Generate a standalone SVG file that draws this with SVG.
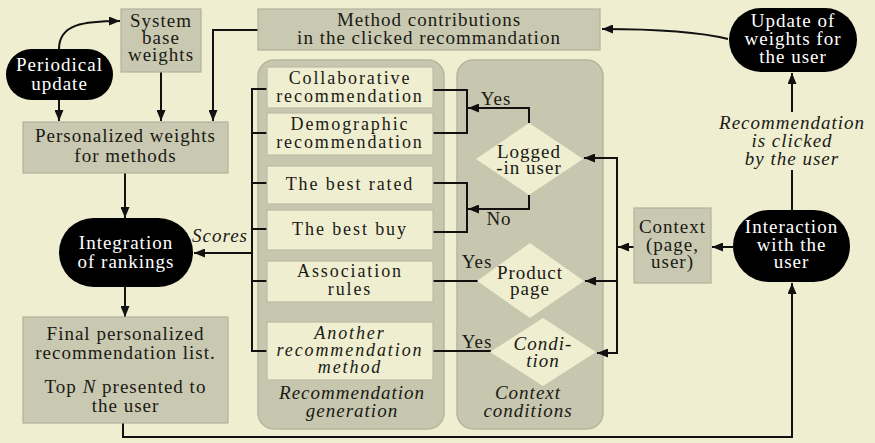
<svg xmlns="http://www.w3.org/2000/svg" width="875" height="443" viewBox="0 0 875 443">
  <defs>
    <marker id="arrow" markerUnits="userSpaceOnUse" markerWidth="12" markerHeight="9" refX="11" refY="4.5" orient="auto">
      <path d="M0,0 L11,4.5 L0,9 z" fill="#111"/>
    </marker>
  </defs>
  <style>
    text { font-family: "Liberation Serif", "Times New Roman", serif; font-size: 19px; letter-spacing: 1px; fill: #1a1a14; text-anchor: middle; }
    .inner text { font-size: 18px; letter-spacing: 1.9px; }
    .it { font-style: italic; }
    .light { fill: #ffffff; }
    .gray { fill: #c9c8b1; stroke: #b3b29c; stroke-width: 1.2; }
    .pill { fill: #000000; }
    .panel { fill: #c7c6af; stroke: #b6b5a0; stroke-width: 1.5; }
    .box { fill: #efeed1; stroke: #bdbca6; stroke-width: 1.2; }
    .dia { fill: #efeed1; }
    .wire { fill: none; stroke: #111; stroke-width: 2; }
    .wire.a { marker-end: url(#arrow); }
  </style>

  <rect x="0" y="0" width="875" height="443" fill="#efeed1"/>

  <!-- group panels -->
  <g id="recommendation-generation">
    <rect class="panel" x="258" y="60" width="186" height="369" rx="16"/>
    <text class="it" x="352" y="399">Recommendation</text>
    <text class="it" x="352" y="417">generation</text>
  </g>
  <g id="context-conditions">
    <rect class="panel" x="457" y="60" width="146" height="369" rx="16"/>
    <text class="it" x="528" y="399">Context</text>
    <text class="it" x="528" y="417">conditions</text>
  </g>

  <!-- connectors -->
  <g id="connectors">
    <path class="wire a" d="M59,49 C59,24 84,21 120,21"/>
    <path class="wire a" d="M59,100 V121"/>
    <path class="wire a" d="M161,72 V121"/>
    <path class="wire a" d="M258,30 H213 V121"/>
    <path class="wire a" d="M728,39 C700,32 660,29 602,29"/>
    <path class="wire" d="M792,210 V170"/>
    <path class="wire a" d="M792,112 V73"/>
    <path class="wire a" d="M733,247 H712"/>
    <path class="wire a" d="M634,247 H618"/>
    <path class="wire" d="M617,157 V354"/>
    <path class="wire a" d="M617,158 H584"/>
    <path class="wire a" d="M617,281 H585"/>
    <path class="wire a" d="M617,353 H597"/>
    <path class="wire a" d="M529,123 V108 H468"/>
    <path class="wire" d="M433,90 H467 V133 H433"/>
    <path class="wire a" d="M529,195 V209 H468"/>
    <path class="wire" d="M433,183 H467 V232 H433"/>
    <path class="wire" d="M433,281 H478"/>
    <path class="wire" d="M433,351 H491"/>
    <path class="wire" d="M267,89 H252 V351 H267 M252,133 H267 M252,183 H267 M252,229 H267 M252,281 H267"/>
    <path class="wire a" d="M252,253 H194"/>
    <path class="wire a" d="M125,173 V218"/>
    <path class="wire a" d="M125,287 V317"/>
    <path class="wire a" d="M123,423 V437 H792 V283"/>
  </g>

  <!-- edge labels -->
  <g id="labels">
    <text class="it" x="220" y="242">Scores</text>
    <text class="it" x="792" y="129">Recommendation</text>
    <text class="it" x="792" y="147">is clicked</text>
    <text class="it" x="792" y="165">by the user</text>
    <text x="496" y="105">Yes</text>
    <text x="499" y="225">No</text>
    <text x="477" y="268">Yes</text>
    <text x="477" y="348">Yes</text>
  </g>

  <g id="periodical-update">
    <rect class="pill" x="6" y="49" width="107" height="51" rx="25.5"/>
    <text class="light" x="59.5" y="71">Periodical</text>
    <text class="light" x="59.5" y="90">update</text>
  </g>

  <g id="system-base-weights">
    <rect class="gray" x="121" y="9" width="80" height="63"/>
    <text x="161" y="27">System</text>
    <text x="161" y="44">base</text>
    <text x="161" y="61">weights</text>
  </g>

  <g id="method-contributions">
    <rect class="gray" x="258" y="9" width="342" height="41"/>
    <text x="429" y="26">Method contributions</text>
    <text x="429" y="44">in the clicked recommandation</text>
  </g>

  <g id="update-weights">
    <rect class="pill" x="729" y="8" width="128" height="64" rx="32"/>
    <text class="light" x="793" y="27">Update of</text>
    <text class="light" x="793" y="45">weights for</text>
    <text class="light" x="793" y="63">the user</text>
  </g>

  <g id="personalized-weights">
    <rect class="gray" x="23" y="122" width="205" height="51"/>
    <text x="125.5" y="142">Personalized weights</text>
    <text x="125.5" y="162">for methods</text>
  </g>

  <g id="integration">
    <rect class="pill" x="59" y="218" width="134" height="69" rx="34.5"/>
    <text class="light" x="126" y="249">Integration</text>
    <text class="light" x="126" y="268">of rankings</text>
  </g>

  <g id="final-list">
    <rect class="gray" x="23" y="317" width="205" height="106"/>
    <text x="125.5" y="340">Final personalized</text>
    <text x="125.5" y="359">recommendation list.</text>
    <text x="125.5" y="393">Top <tspan font-style="italic">N</tspan> presented to</text>
    <text x="125.5" y="412">the user</text>
  </g>

  <g class="inner">
    <g id="collaborative">
      <rect class="box" x="267" y="67" width="166" height="41"/>
      <text x="350" y="84">Collaborative</text>
      <text x="350" y="102">recommendation</text>
    </g>
    <g id="demographic">
      <rect class="box" x="267" y="113" width="166" height="42"/>
      <text x="350" y="130">Demographic</text>
      <text x="350" y="148">recommendation</text>
    </g>
    <g id="best-rated">
      <rect class="box" x="267" y="166" width="166" height="38"/>
      <text x="350" y="190">The best rated</text>
    </g>
    <g id="best-buy">
      <rect class="box" x="267" y="210" width="166" height="40"/>
      <text x="350" y="235">The best buy</text>
    </g>
    <g id="association">
      <rect class="box" x="267" y="261" width="166" height="41"/>
      <text x="350" y="277">Association</text>
      <text x="350" y="295">rules</text>
    </g>
    <g id="another-method">
      <rect class="box" x="267" y="322" width="166" height="58"/>
      <text class="it" x="350" y="339">Another</text>
      <text class="it" x="350" y="356">recommendation</text>
      <text class="it" x="350" y="373">method</text>
    </g>
  </g>

  <g id="logged-in">
    <polygon class="dia" points="476,159 529,123 583,159 529,195"/>
    <text x="529" y="158">Logged</text>
    <text x="529" y="174">-in user</text>
  </g>

  <g id="product-page">
    <polygon class="dia" points="477,281 530,243 584,281 530,318"/>
    <text x="530" y="279">Product</text>
    <text x="530" y="295">page</text>
  </g>

  <g id="condition">
    <polygon class="dia" points="490,352 543,318 596,352 543,386"/>
    <text class="it" x="543" y="350">Condi-</text>
    <text class="it" x="543" y="367">tion</text>
  </g>

  <g id="context">
    <rect class="gray" x="634" y="208" width="77" height="75"/>
    <text x="672.5" y="233">Context</text>
    <text x="672.5" y="251">(page,</text>
    <text x="672.5" y="268">user)</text>
  </g>

  <g id="interaction">
    <rect class="pill" x="733" y="210" width="117" height="72" rx="36"/>
    <text class="light" x="791.5" y="233">Interaction</text>
    <text class="light" x="791.5" y="251">with the</text>
    <text class="light" x="791.5" y="268">user</text>
  </g>
</svg>
